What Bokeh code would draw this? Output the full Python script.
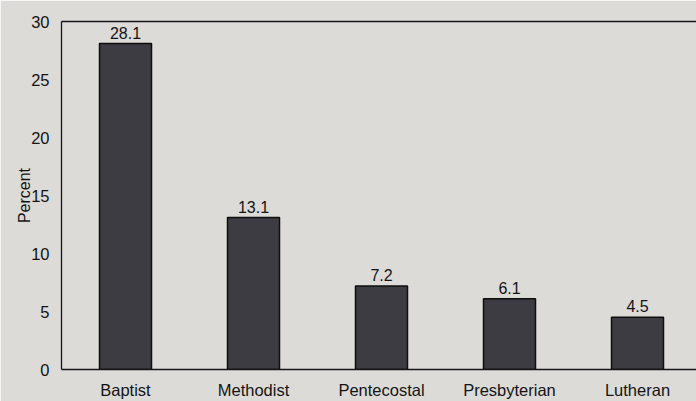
from bokeh.plotting import figure
from bokeh.models import ColumnDataSource, Range1d, FixedTicker, LinearAxis
from bokeh.core.properties import value
from bokeh.embed import file_html
from bokeh.resources import INLINE

categories = ["Baptist", "Methodist", "Pentecostal", "Presbyterian", "Lutheran"]
percents = [28.1, 13.1, 7.2, 6.1, 4.5]
y_ticks = [0, 5, 10, 15, 20, 25, 30]
y_label = "Percent"

positions = list(range(len(categories)))
labels = [f"{v:.1f}" for v in percents]
src = ColumnDataSource(dict(x=positions, top=percents, label=labels))

FONT = "Liberation Sans"
BG = "#dcdbd8"
INK = "#141414"

p = figure(width=696, height=401, output_backend="svg", toolbar_location=None,
           x_range=Range1d(-0.5, -0.5 + 635 / 128), y_range=Range1d(0, 30),
           min_border_left=61, min_border_top=21, min_border_right=0, min_border_bottom=25)
p.background_fill_color = BG
p.border_fill_color = BG
p.outline_line_color = None
p.grid.visible = False

p.vbar(x="x", top="top", bottom=0, width=52 / 128, source=src,
       fill_color="#3d3c42", line_color="#0e0e0e", line_width=1.5)
p.text(x="x", y="top", text="label", source=src, text_align="center",
       text_baseline="bottom", y_offset=-5, text_font=value(FONT),
       text_font_size="16px", text_color=INK)

# axes
p.xaxis.ticker = FixedTicker(ticks=positions)
p.xaxis.major_label_overrides = {i: c for i, c in zip(positions, categories)}
p.xaxis.major_tick_line_color = None
p.xaxis.minor_tick_line_color = None
p.xaxis.major_label_standoff = 5
p.xaxis.major_label_text_font = FONT
p.xaxis.major_label_text_font_size = "16.5px"
p.xaxis.major_label_text_color = INK
p.xaxis.axis_line_color = INK
p.xaxis.axis_line_width = 1.6

p.yaxis.ticker = FixedTicker(ticks=y_ticks)
p.yaxis.major_tick_line_color = None
p.yaxis.minor_tick_line_color = None
p.yaxis.major_label_standoff = 6
p.yaxis.major_label_text_font = FONT
p.yaxis.major_label_text_font_size = "16.5px"
p.yaxis.major_label_text_color = INK
p.yaxis.axis_line_color = INK
p.yaxis.axis_line_width = 1.3
p.yaxis.axis_label = y_label
p.yaxis.axis_label_standoff = -5
p.yaxis.axis_label_text_font = FONT
p.yaxis.axis_label_text_font_size = "16px"
p.yaxis.axis_label_text_font_style = "normal"
p.yaxis.axis_label_text_color = INK

top_axis = LinearAxis(ticker=FixedTicker(ticks=[]), major_tick_line_color=None,
                      minor_tick_line_color=None, major_label_text_font_size="0px",
                      major_label_standoff=0, axis_line_color=INK, axis_line_width=1.6)
p.add_layout(top_axis, "above")

open("out.html", "w").write(file_html(p, INLINE))
